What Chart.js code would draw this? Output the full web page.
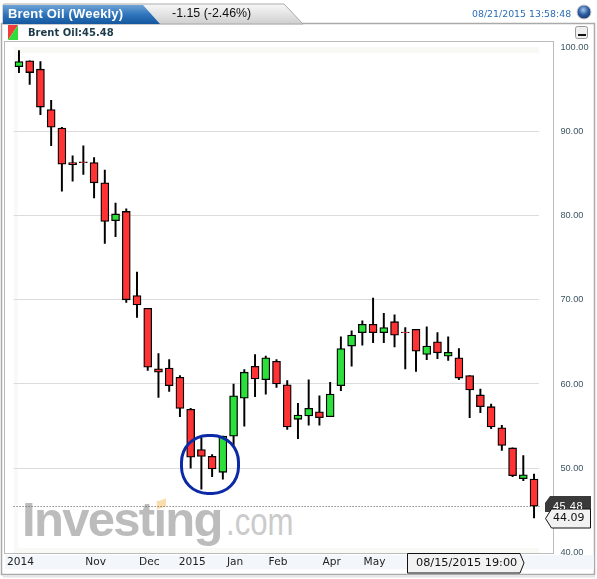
<!DOCTYPE html>
<html lang="en">
	<head>
		<meta charset="UTF-8" />
		<title>Brent Oil (Weekly)</title>
		<script src="https://cdn.jsdelivr.net/npm/chart.js"></script>
		<style>
			html, body { margin: 0; padding: 0; background: #fff; }
			#page { position: relative; width: 597px; height: 579px; overflow: hidden; font-family: "Liberation Sans", sans-serif; }
			#page div, #page svg { position: absolute; }
			#page canvas { position: absolute; left: 0; top: 0; z-index: 2; }
			#chrome { left: 0; top: 0; z-index: 0; }
			.txt { white-space: nowrap; z-index: 3; }
			#title { left: 8px; top: 5px; color: #fff; font-weight: bold; font-size: 13px; line-height: 17px; letter-spacing: 0.2px; }
			#change { left: 172px; top: 5px; color: #111; font-size: 12.4px; line-height: 17px; }
			#stamp { left: 472px; top: 7px; color: #2a6db5; font-family: "DejaVu Sans"; font-size: 9.4px; line-height: 13px; }
			#legend { left: 28px; top: 26px; color: #1b3a4a; font-family: "DejaVu Sans"; font-weight: bold; font-size: 10px; line-height: 13px; }
			#wm1 { left: 22px; top: 491px; color: #bcbcbc; font-weight: bold; font-size: 49px; line-height: 56px; letter-spacing: -1.7px; z-index: 1; }
			#wm2 { left: 226px; top: 500px; color: #cbcbcb; font-size: 38px; line-height: 44px; z-index: 1; transform: scaleX(0.82); transform-origin: left top; }
			#wmdot { left: 157px; top: 500px; width: 9px; height: 8px; background: #fbdcae; z-index: 1; transform: skewY(-18deg); }
			#ring { left: 180px; top: 434px; width: 54px; height: 55px; border: 3px solid #0c2aa6; border-radius: 46%; z-index: 3; }
			#tag1 { left: 553px; top: 500px; height: 9px; overflow: hidden; color: #fff; font-size: 11px; line-height: 13px; letter-spacing: 0.5px; z-index: 6; }
			#tag2 { left: 553px; top: 511px; color: #111; font-family: "DejaVu Sans"; font-size: 11px; line-height: 14px; z-index: 6; }
			#tag3 { left: 416px; top: 556px; color: #111; font-family: "DejaVu Sans"; font-size: 11.3px; line-height: 14px; z-index: 6; }
		</style>
	</head>
	<body>
		<div id="page">
			<svg id="chrome" width="597" height="579">
				<defs>
					<linearGradient id="blueTab" x1="0" y1="0" x2="0" y2="1">
						<stop offset="0" stop-color="#6ea3d6" />
						<stop offset="0.5" stop-color="#2f75bb" />
						<stop offset="1" stop-color="#14579f" />
					</linearGradient>
					<linearGradient id="greyTab" x1="0" y1="0" x2="0" y2="1">
						<stop offset="0" stop-color="#f8f8f8" />
						<stop offset="1" stop-color="#cfcfcf" />
					</linearGradient>
					<radialGradient id="ball" cx="0.45" cy="0.35" r="0.7">
						<stop offset="0" stop-color="#a9c6e8" />
						<stop offset="0.5" stop-color="#2c5fa5" />
						<stop offset="1" stop-color="#16305f" />
					</radialGradient>
				</defs>
				<!-- outer frame -->
				<rect x="1.5" y="23.5" width="593" height="551" fill="#fff" stroke="#aaa" stroke-width="1.5" />
				<rect x="3" y="575.5" width="592" height="2" fill="#e4e4e4" />
				<!-- tabs -->
				<path d="M3 24 V5 Q3 4 5 4 H284 L303 24 Z" fill="url(#greyTab)" stroke="#aaa" />
				<path d="M3 24 V5 H143 L160 24 Z" fill="url(#blueTab)" />
				<circle cx="584" cy="12" r="7" fill="url(#ball)" stroke="#ccc" />
				<!-- legend icon and minimize button -->
				<path d="M8 25 H18 L8 40 Z" fill="#f33c3c" />
				<path d="M18 25 V40 H8 Z" fill="#2fdc3a" />
				<rect x="575.5" y="26.5" width="12" height="12" rx="2" fill="#efefef" stroke="#999" />
				<rect x="578" y="34" width="8" height="2" fill="#111" />
				<!-- plot frame -->
				<rect x="4.5" y="41.5" width="549" height="512" fill="#fff" stroke="#bbb" />
				<rect x="14" y="47" width="525" height="6" fill="#f8f8f4" />
				<rect x="14" y="47" width="4" height="505" fill="#f9f9f7" />
				<rect x="14" y="548" width="525" height="5" fill="#f9f9f5" />
				<rect x="5" y="555" width="589" height="14" fill="#f3f7fc" />
			</svg>
			<div id="title" class="txt">Brent Oil (Weekly)</div>
			<div id="change" class="txt">-1.15 (-2.46%)</div>
			<div id="stamp" class="txt">08/21/2015 13:58:48</div>
			<div id="legend" class="txt">Brent Oil:45.48</div>
			<div id="wm1" class="txt">Investing</div>
			<div id="wm2" class="txt">.com</div>
			<div id="wmdot"></div>
			<canvas id="oil" width="597" height="579"></canvas>
			<div id="ring"></div>
			<svg width="597" height="579" style="left: 0; top: 0; z-index: 5">
				<path d="M545 503 L550 496 H591 V512 H545 Z" fill="#3a3a3a" />
				<path d="M545.5 518.5 L551.5 509 H590.5 V528 H551.5 Z" fill="#f2f2f2" stroke="#111" />
				<path d="M407.5 553.5 H520 L524 563 L520 573 H407.5 Z" fill="#f2f2f2" stroke="#111" />
			</svg>
			<div id="tag1" class="txt">45.48</div>
			<div id="tag2" class="txt">44.09</div>
			<div id="tag3" class="txt">08/15/2015 19:00</div>
		</div>

		<script>
			const tickLabels = ["2014", "", "", "", "", "", "", "Nov", "", "", "", "", "Dec", "", "", "", "2015", "", "", "", "Jan", "", "", "", "Feb", "", "", "", "", "Apr", "", "", "", "May", "", "", "", "", "", "", "", "", "", "", "", "", "", "", ""];
			const opens = [97.7, 98.4, 97.4, 92.6, 90.4, 86.3, 86.4, 86.3, 83.9, 79.4, 80.5, 70.5, 69.0, 61.8, 61.9, 60.8, 57.0, 52.2, 51.4, 49.5, 53.8, 58.3, 62.1, 60.5, 62.7, 59.9, 55.8, 56.2, 56.7, 56.1, 59.8, 64.5, 66.1, 67.1, 66.1, 67.4, 66.15, 66.5, 63.5, 65.0, 63.3, 63.1, 61.0, 58.7, 57.3, 54.8, 52.4, 48.75, 48.7];
			const closes = [98.3, 97.0, 92.9, 90.5, 86.1, 86.05, 86.3, 83.9, 79.3, 80.2, 70.0, 69.4, 62.0, 61.4, 59.8, 57.1, 51.3, 51.4, 49.9, 53.8, 58.6, 61.4, 60.6, 63.1, 60.0, 54.9, 56.3, 57.1, 56.0, 58.8, 64.2, 65.8, 67.1, 66.1, 66.7, 65.8, 66.1, 63.9, 64.5, 63.7, 63.75, 60.7, 59.3, 57.3, 54.9, 52.7, 49.1, 49.2, 45.48];
			const highs = [99.6, 98.4, 98.3, 93.7, 90.5, 87.1, 88.3, 86.9, 85.4, 81.5, 80.8, 73.3, 69.0, 63.6, 62.9, 61.0, 57.1, 53.6, 51.6, 53.8, 60.0, 61.7, 63.5, 63.3, 62.9, 60.4, 57.7, 60.5, 58.6, 60.2, 65.6, 66.3, 67.5, 70.2, 68.4, 68.2, 66.7, 66.5, 66.8, 66.1, 65.6, 64.2, 61.0, 59.4, 57.6, 55.1, 52.4, 51.5, 49.3];
			const lows = [97.0, 95.6, 92.0, 88.3, 82.9, 84.1, 84.9, 82.1, 76.7, 77.5, 69.7, 67.9, 61.6, 58.4, 59.1, 56.1, 50.0, 47.5, 49.0, 48.7, 52.5, 55.0, 58.5, 58.8, 59.6, 54.6, 53.5, 55.1, 55.1, 56.1, 59.2, 62.1, 64.6, 64.9, 64.9, 64.4, 61.8, 61.5, 62.9, 63.0, 62.8, 60.5, 56.0, 56.6, 54.7, 52.1, 49.0, 48.5, 44.09];
			const lastPrice = 45.48;
			const yTicks = [40, 50, 60, 70, 80, 90, 100];

			// dotted line at the last price, full width of the plot
			const lastPriceLine = {
				id: "lastPriceLine",
				beforeDatasetsDraw(chart) {
					const { ctx, chartArea, scales } = chart;
					const y = Math.round(scales.y.getPixelForValue(lastPrice)) + 0.5;
					ctx.save();
					ctx.strokeStyle = "#555";
					ctx.setLineDash([1, 2]);
					ctx.beginPath();
					ctx.moveTo(chartArea.left, y);
					ctx.lineTo(chartArea.right, y);
					ctx.stroke();
					ctx.restore();
				},
			};

			new Chart(document.getElementById("oil"), {
				type: "bar",
				data: {
					labels: tickLabels,
					datasets: [
						{
							label: "Body",
							data: opens.map((o, i) => [o, closes[i]]),
							barThickness: 8,
							borderWidth: 1.3,
							borderSkipped: false,
							borderColor: "#000",
							backgroundColor: (c) => (closes[c.dataIndex] > opens[c.dataIndex] ? "#2be03a" : "#ff3333"),
						},
						{
							label: "Wick",
							data: lows.map((l, i) => [l, highs[i]]),
							barThickness: 1.3,
							borderWidth: 0,
							backgroundColor: "#000",
						},
					],
				},
				options: {
					responsive: false,
					animation: false,
					layout: { padding: { left: 13.6, top: 47.3, right: 0, bottom: 0 } },
					datasets: { bar: { grouped: false } },
					plugins: { legend: { display: false }, tooltip: { enabled: false } },
					scales: {
						x: {
							grid: { display: false, drawTicks: false },
							border: { display: false },
							afterFit: (s) => { s.height = 26.7; },
							ticks: {
								autoSkip: false,
								maxRotation: 0,
								padding: 4,
								labelOffset: 1.5,
								color: "#222",
								font: { family: "DejaVu Sans", size: 10.6 },
							},
						},
						y: {
							position: "right",
							min: 40,
							max: 100,
							afterFit: (s) => { s.width = 57.6; },
							afterBuildTicks: (s) => { s.ticks = yTicks.map((v) => ({ value: v })); },
							grid: {
								drawTicks: false,
								lineWidth: 1,
								color: (c) => (c.tick.value === 40 || c.tick.value === 100 ? "transparent" : "#dcdcdc"),
							},
							border: { display: false },
							ticks: {
								padding: 21,
								crossAlign: "near",
								color: "#3c5560",
								font: { family: "Liberation Sans", size: 9.2 },
								callback: (v) => Number(v).toFixed(2),
							},
						},
					},
				},
				plugins: [lastPriceLine],
			});
		</script>
	</body>
</html>
